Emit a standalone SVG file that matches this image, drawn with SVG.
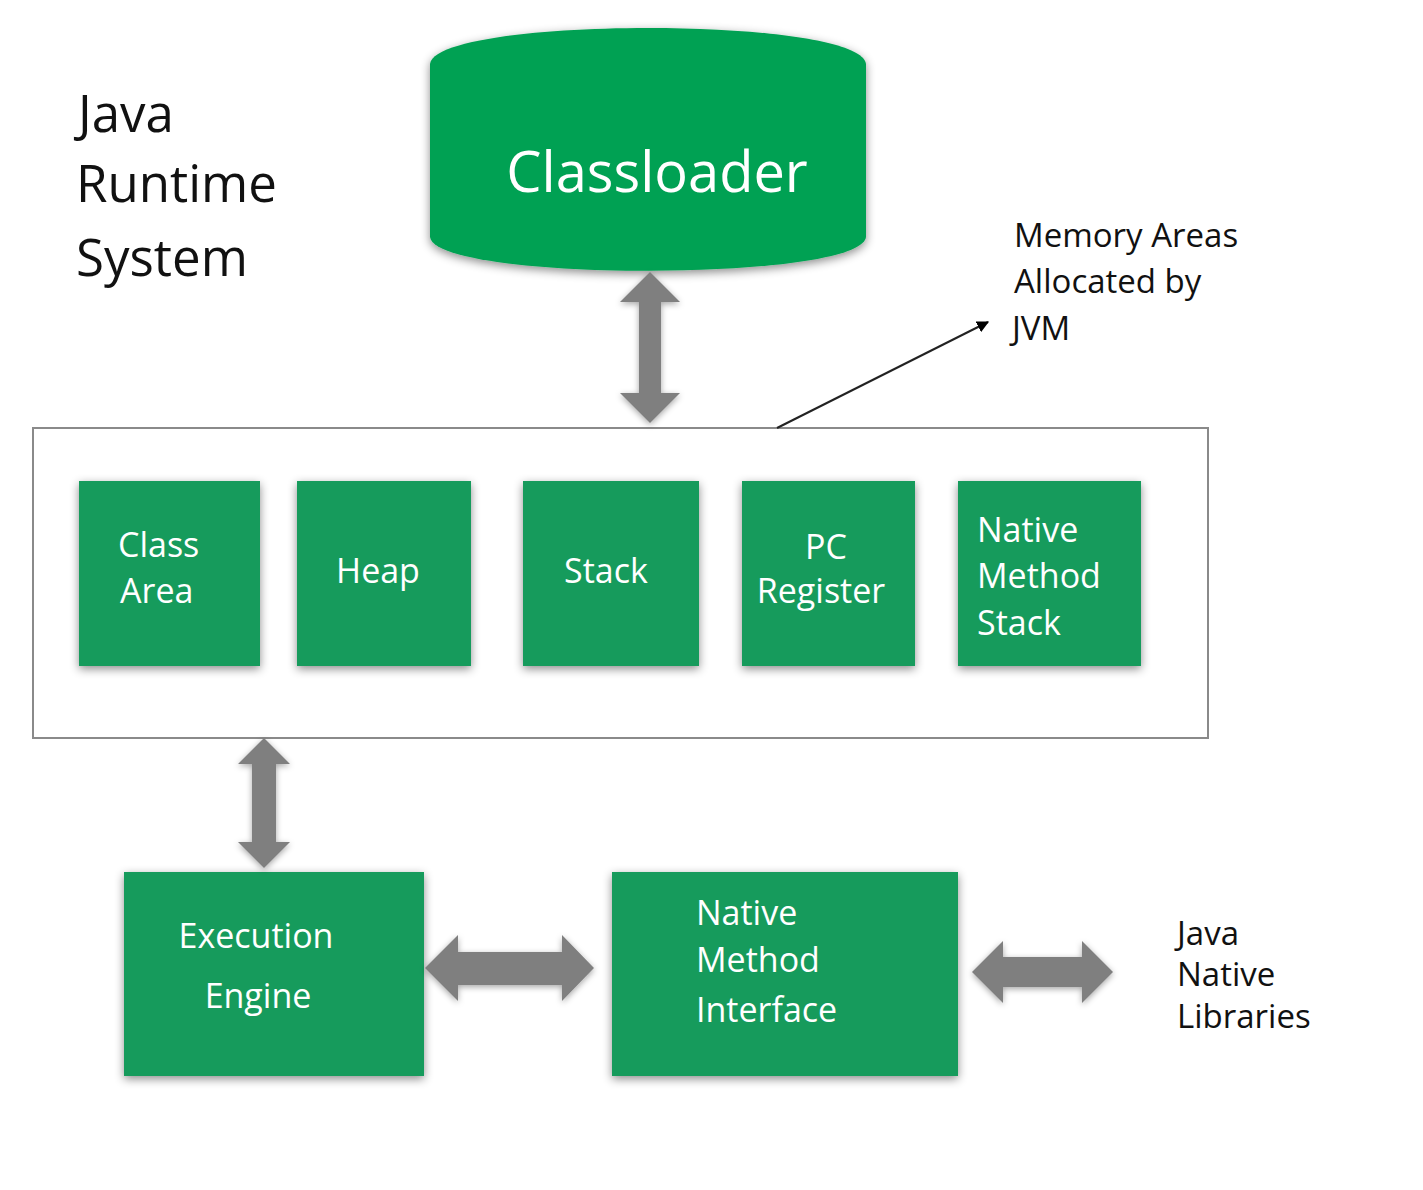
<svg xmlns="http://www.w3.org/2000/svg" width="1423" height="1190" viewBox="0 0 1423 1190">
<defs>
<filter id="sh" x="-20%" y="-20%" width="140%" height="140%">
<feDropShadow dx="0" dy="3" stdDeviation="5" flood-color="#000" flood-opacity="0.45"/>
</filter>
<filter id="ash" x="-30%" y="-30%" width="160%" height="160%">
<feDropShadow dx="0" dy="2" stdDeviation="3" flood-color="#000" flood-opacity="0.35"/>
</filter>
<marker id="tri" viewBox="0 0 10 10" refX="9" refY="5" markerWidth="6" markerHeight="6" orient="auto" markerUnits="strokeWidth">
<path d="M0,0 L10,5 L0,10 Z" fill="#000"/>
</marker>
<style>
.box{fill:#189b5c;filter:url(#sh);}
.wt{fill:#fff;font-family:"Open Sans","Noto Sans",sans-serif;font-size:34px;}
.bt{fill:#111;font-family:"Open Sans","Noto Sans",sans-serif;font-size:33px;}
.arr{fill:#7f7f7f;filter:url(#ash);}
</style>
</defs>
<rect width="1423" height="1190" fill="#fff"/>
<g id="title">
<text class="bt" style="font-size:51px" x="78" y="132">Java</text>
<text class="bt" style="font-size:51px" x="76" y="202">Runtime</text>
<text class="bt" style="font-size:51px" x="76" y="276">System</text>
</g>
<g id="classloader">
<path d="M430,64 C436,16 860,16 866,64 L866,237 C860,282 436,282 430,237 Z" fill="#01a152" filter="url(#sh)"/>
<text class="wt" style="font-size:56px" x="657" y="192" text-anchor="middle">Classloader</text>
</g>
<g id="memory-label">
<text class="bt" x="1014" y="247">Memory Areas</text>
<text class="bt" x="1014" y="293">Allocated by</text>
<text class="bt" x="1012" y="340">JVM</text>
</g>
<g id="runtime-data-areas">
<rect x="33" y="428" width="1175" height="310" fill="#fff" stroke="#8a8a8a" stroke-width="2"/>
</g>
<g id="class-area">
<rect class="box" x="79" y="481" width="181" height="185"/>
<text class="wt" x="118" y="557">Class</text>
<text class="wt" x="120" y="603">Area</text>
</g>
<g id="heap">
<rect class="box" x="297" y="481" width="174" height="185"/>
<text class="wt" x="378" y="583" text-anchor="middle">Heap</text>
</g>
<g id="stack">
<rect class="box" x="523" y="481" width="176" height="185"/>
<text class="wt" x="606" y="583" text-anchor="middle">Stack</text>
</g>
<g id="pc-register">
<rect class="box" x="742" y="481" width="173" height="185"/>
<text class="wt" x="826" y="559" text-anchor="middle">PC</text>
<text class="wt" x="821" y="603" text-anchor="middle">Register</text>
</g>
<g id="native-method-stack">
<rect class="box" x="958" y="481" width="183" height="185"/>
<text class="wt" x="977" y="542">Native</text>
<text class="wt" x="977" y="588">Method</text>
<text class="wt" x="977" y="635">Stack</text>
</g>
<g id="execution-engine">
<rect class="box" x="124" y="872" width="300" height="204"/>
<text class="wt" x="256" y="948" text-anchor="middle">Execution</text>
<text class="wt" x="258" y="1008" text-anchor="middle">Engine</text>
</g>
<g id="native-method-interface">
<rect class="box" x="612" y="872" width="346" height="204"/>
<text class="wt" x="696" y="925">Native</text>
<text class="wt" x="696" y="972">Method</text>
<text class="wt" x="696" y="1022">Interface</text>
</g>
<g id="java-native-libraries">
<text class="bt" x="1177" y="945">Java</text>
<text class="bt" x="1177" y="986">Native</text>
<text class="bt" x="1177" y="1028">Libraries</text>
</g>
<g id="connectors">
<path class="arr" d="M650,272 L680,302 L661,302 L661,393 L680,393 L650,423 L620,393 L639,393 L639,302 L620,302 Z"/>
<path class="arr" d="M264,738 L290,764 L276,764 L276,842 L290,842 L264,868 L238,842 L252,842 L252,764 L238,764 Z"/>
<path class="arr" d="M425,968 L458,935 L458,952 L562,952 L562,935 L594,968 L562,1001 L562,985 L458,985 L458,1001 Z"/>
<path class="arr" d="M972,972 L1003,941 L1003,957 L1082,957 L1082,941 L1113,972 L1082,1003 L1082,987 L1003,987 L1003,1003 Z"/>
<line x1="777" y1="428" x2="988" y2="322" stroke="#222" stroke-width="2" marker-end="url(#tri)"/>
</g>
</svg>
